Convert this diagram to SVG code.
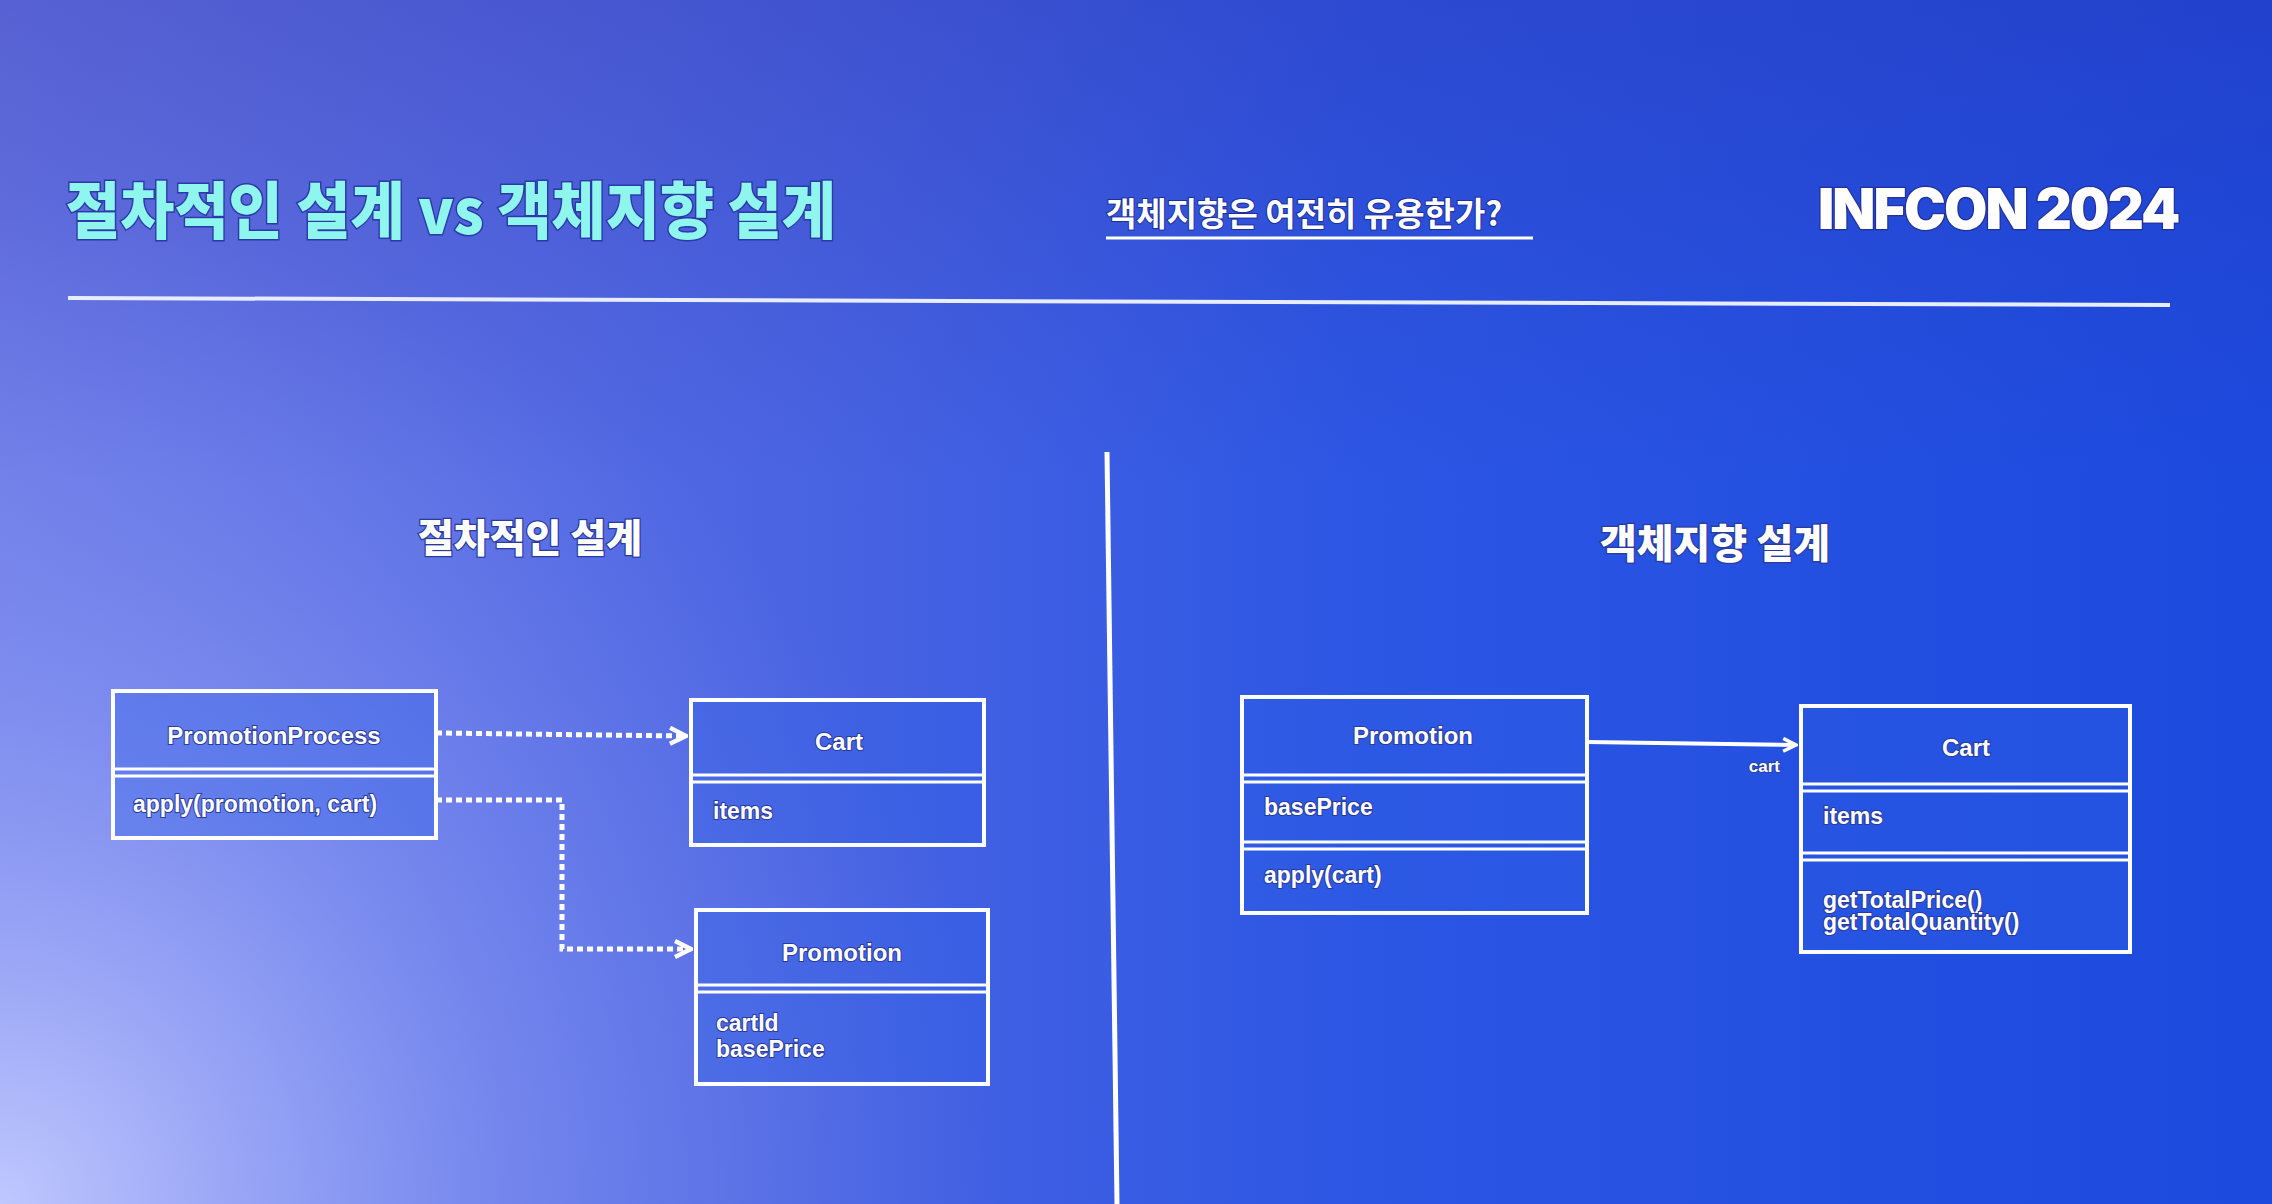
<svg xmlns="http://www.w3.org/2000/svg" width="2272" height="1204" viewBox="0 0 2272 1204">
<defs>
<linearGradient id="bgH" x1="0" y1="0" x2="1" y2="0">
<stop offset="0" stop-color="#6a78e6"/>
<stop offset="0.35" stop-color="#4a64e2"/>
<stop offset="0.6" stop-color="#2c56e4"/>
<stop offset="1" stop-color="#1c4ade"/>
</linearGradient>
<linearGradient id="bgTop" x1="0" y1="0" x2="0" y2="1">
<stop offset="0" stop-color="#2e30a8" stop-opacity="0.32"/>
<stop offset="0.4" stop-color="#2e30a8" stop-opacity="0"/>
</linearGradient>
<radialGradient id="bgGlow" cx="0" cy="1204" r="1000" gradientUnits="userSpaceOnUse">
<stop offset="0" stop-color="#c4ccff" stop-opacity="0.95"/>
<stop offset="0.5" stop-color="#9aa8fa" stop-opacity="0.45"/>
<stop offset="1" stop-color="#8090f0" stop-opacity="0"/>
</radialGradient>
<marker id="arr" viewBox="0 0 10 10" refX="9" refY="5" markerWidth="4" markerHeight="4" orient="auto" markerUnits="strokeWidth">
<path d="M1,1 L9,5 L1,9" fill="none" stroke="#ffffff" stroke-width="2.2"/>
</marker>
<style>
.title{font-family:"Noto Sans CJK KR","Noto Sans",sans-serif;font-weight:900;fill:#8ff6ee;stroke:#2a3aa8;stroke-width:3;paint-order:stroke}
.sub{font-family:"Noto Sans CJK KR","Noto Sans",sans-serif;font-weight:700;fill:#ffffff;stroke:#1d2f9a;stroke-width:2;paint-order:stroke}
.brand{font-family:Inter,"Liberation Sans",sans-serif;font-weight:900;fill:#ffffff;stroke:#23309a;stroke-width:2.5;paint-order:stroke}
.head{font-family:"Noto Sans CJK KR","Noto Sans",sans-serif;font-weight:900;fill:#ffffff;stroke:#2a3a9e;stroke-width:2.5;paint-order:stroke;text-anchor:middle}
.box{fill:#2f5ee6;fill-opacity:0.35;stroke:#ffffff;stroke-width:4}
.sep{stroke:#ffffff;stroke-width:3}
.nm{font-family:"Liberation Sans",Arial,sans-serif;font-weight:700;font-size:24px;fill:#ffffff;text-anchor:middle;stroke:#2a3a9e;stroke-width:2;paint-order:stroke}
.mb{font-family:"Liberation Sans",Arial,sans-serif;font-weight:700;font-size:23px;fill:#ffffff;stroke:#2a3a9e;stroke-width:2;paint-order:stroke}
.dot{fill:none;stroke:#ffffff;stroke-width:5;stroke-dasharray:6 4}
.solid{fill:none;stroke:#ffffff;stroke-width:4}
.lbl{font-family:"Liberation Sans",Arial,sans-serif;font-weight:700;font-size:17px;fill:#ffffff;stroke:#2a3a9e;stroke-width:1.5;paint-order:stroke;text-anchor:end}
</style>
</defs>

<rect width="2272" height="1204" fill="url(#bgH)"/>
<rect width="2272" height="1204" fill="url(#bgTop)"/>
<rect width="2272" height="1204" fill="url(#bgGlow)"/>

<g id="header">
<text class="title" x="66" y="234" font-size="62" textLength="770" lengthAdjust="spacingAndGlyphs">절차적인 설계 vs 객체지향 설계</text>
<text class="sub" x="1106" y="226" font-size="33">객체지향은 여전히 유용한가?</text>
<line x1="1106" y1="238" x2="1533" y2="238" stroke="#ffffff" stroke-width="3"/>
<text class="brand" x="1818" y="229" font-size="56" letter-spacing="-2">INFCON 2024</text>
<line x1="68" y1="298" x2="2170" y2="305" stroke="#e8ecff" stroke-width="4"/>
<line x1="1107" y1="452" x2="1117" y2="1204" stroke="#ffffff" stroke-width="5"/>
</g>

<g id="heading-left"><text class="head" x="530" y="552" font-size="39">절차적인 설계</text></g>
<g id="heading-right"><text class="head" x="1715" y="558" font-size="40">객체지향 설계</text></g>

<g id="connectors">
<path class="dot" d="M436,733 L686,736" marker-end="url(#arr)"/>
<path class="dot" d="M436,800 L562,800 L562,949 L691,949" marker-end="url(#arr)"/>
<path class="solid" d="M1587,742 L1796,745" marker-end="url(#arr)"/>
<text class="lbl" x="1780" y="772">cart</text>
</g>

<g id="node-promotionprocess">
<rect class="box" x="113" y="691" width="323" height="147"/>
<line class="sep" x1="113" y1="769" x2="436" y2="769"/>
<line class="sep" x1="113" y1="776" x2="436" y2="776"/>
<text class="nm" x="274" y="744">PromotionProcess</text>
<text class="mb" x="133" y="812">apply(promotion, cart)</text>
</g>

<g id="node-cart-left">
<rect class="box" x="691" y="700" width="293" height="145"/>
<line class="sep" x1="691" y1="775" x2="984" y2="775"/>
<line class="sep" x1="691" y1="782" x2="984" y2="782"/>
<text class="nm" x="839" y="750">Cart</text>
<text class="mb" x="713" y="819">items</text>
</g>

<g id="node-promotion-left">
<rect class="box" x="696" y="910" width="292" height="174"/>
<line class="sep" x1="696" y1="985" x2="988" y2="985"/>
<line class="sep" x1="696" y1="992" x2="988" y2="992"/>
<text class="nm" x="842" y="961">Promotion</text>
<text class="mb" x="716" y="1031">cartId</text>
<text class="mb" x="716" y="1057">basePrice</text>
</g>

<g id="node-promotion-right">
<rect class="box" x="1242" y="697" width="345" height="216"/>
<line class="sep" x1="1242" y1="775" x2="1587" y2="775"/>
<line class="sep" x1="1242" y1="782" x2="1587" y2="782"/>
<line class="sep" x1="1242" y1="842" x2="1587" y2="842"/>
<line class="sep" x1="1242" y1="849" x2="1587" y2="849"/>
<text class="nm" x="1413" y="744">Promotion</text>
<text class="mb" x="1264" y="815">basePrice</text>
<text class="mb" x="1264" y="883">apply(cart)</text>
</g>

<g id="node-cart-right">
<rect class="box" x="1801" y="706" width="329" height="246"/>
<line class="sep" x1="1801" y1="784" x2="2130" y2="784"/>
<line class="sep" x1="1801" y1="791" x2="2130" y2="791"/>
<line class="sep" x1="1801" y1="853" x2="2130" y2="853"/>
<line class="sep" x1="1801" y1="860" x2="2130" y2="860"/>
<text class="nm" x="1966" y="756">Cart</text>
<text class="mb" x="1823" y="824">items</text>
<text class="mb" x="1823" y="908">getTotalPrice()</text>
<text class="mb" x="1823" y="930">getTotalQuantity()</text>
</g>
</svg>
